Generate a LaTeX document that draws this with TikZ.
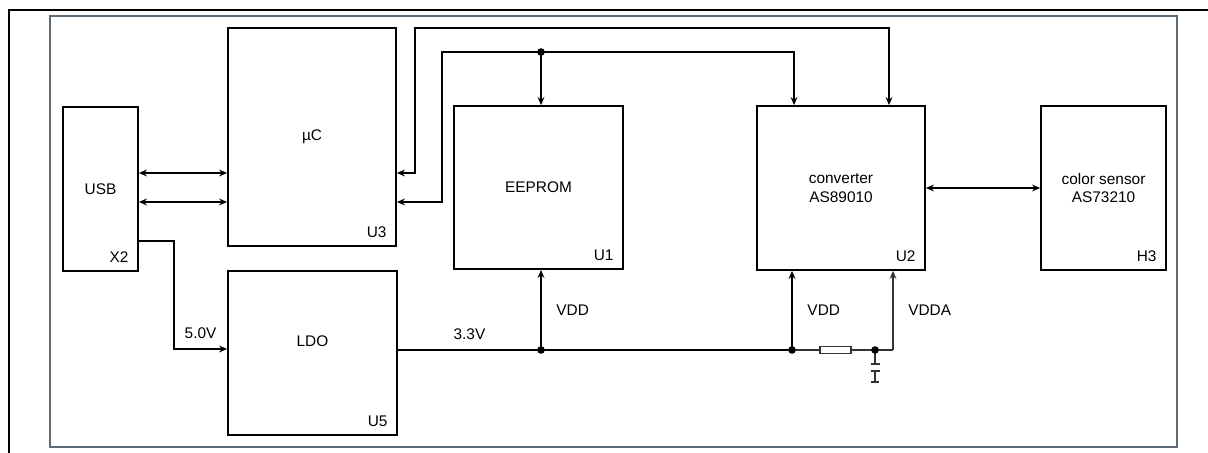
\documentclass[tikz,border=0pt]{standalone}
\usepackage{fontspec}
\setmainfont{Liberation Sans}
\usepackage{tikz}
\usetikzlibrary{arrows.meta, positioning, calc}

\definecolor{framegray}{RGB}{92,106,120}

\begin{document}
\begin{tikzpicture}[x=0.5pt,y=-0.5pt,
        blk/.style={draw, line width=0.9pt, inner sep=0pt, align=center},
        refdes/.style={anchor=south east, inner sep=0pt, xshift=-5pt, yshift=4.5pt},
        sig/.style={line width=0.8pt},
        thinsig/.style={line width=0.6pt, draw=black!80},
        dot/.style={fill, circle, inner sep=0pt, minimum size=3.8pt},
        >={Stealth[length=4pt,width=3.4pt]},
        font=\fontsize{7.7}{9.3}\selectfont]

        \useasboundingbox (0,0) rectangle (1208,453);
        \draw[line width=1pt] (9,453) -- (9,10) -- (1208,10);
        \draw[line width=1pt, framegray] (50,16) rectangle (1177,447);

        \node[blk, minimum width=37.5pt, minimum height=82pt, label={[refdes]south east:X2}] (X2) at (100.5,189) {USB};
        \node[blk, minimum width=84pt, minimum height=109pt, label={[refdes]south east:U3}] (U3) at (312,137) {µC};
        \node[blk, minimum width=84.5pt, minimum height=82pt, label={[refdes]south east:U5}, label={[yshift=6pt]center:LDO}] (U5) at (312.5,353) {};
        \node[blk, minimum width=84.5pt, minimum height=81.5pt, label={[refdes]south east:U1}] (U1) at (538.5,187.5) {EEPROM};
        \node[blk, minimum width=84pt, minimum height=82pt, label={[refdes]south east:U2}] (U2) at (841,188) {converter\\AS89010};
        \node[blk, minimum width=62.5pt, minimum height=82pt, label={[refdes]south east:H3}] (H3) at (1103.5,188) {color sensor\\AS73210};

        \coordinate (a1) at (415,173);
        \coordinate (a2) at (442,202);
        \coordinate (a3) at (174,241);
        \coordinate (a4) at (174,349);
        \coordinate (c2) at (889,28);
        \coordinate (c3) at (794,52);
        \coordinate (c4) at (541,52);
        \coordinate (j1) at (541,350);
        \coordinate (j2) at (792,350);
        \coordinate (j3) at (875,350);
        \coordinate (j4) at (893,350);

        \draw[sig, <->] (X2.east |- a1) -- (U3.west |- a1);
        \draw[sig, <->] (X2.east |- a2) -- (U3.west |- a2);
        \draw[sig, ->] (X2.east |- a3) -| (a4) -- node[above=1.5pt] (v1) {5.0V} (U5.west |- a4);

        \draw[sig, <->] (U3.east |- a1) -- (a1) |- (c2) -- (U2.north -| c2);
        \draw[sig, <->] (U3.east |- a2) -- (a2) |- (c3) -- (U2.north -| c3);
        \draw[sig, ->] (c4) -- (U1.north -| c4);
        \draw[sig, <->] (U2.east) -- (H3.west);

        \node[draw, thinsig, fill=white, minimum width=15.5pt, minimum height=3.3pt, inner sep=0pt] (F) at (835.5,350) {};
        \draw[sig] (U5.east |- j1) -- node[above=1.5pt] (v2) {3.3V} (j1) -- (j2);
        \draw[thinsig] (j2) -- (F.west);
        \draw[thinsig] (F.east) -- (j3) -- (j4);
        \draw[sig, ->] (j1) -- node[right=4pt] (v3) {VDD} (U1.south -| j1);
        \draw[sig, ->] (j2) -- node[right=4pt] (v4) {VDD} (U2.south -| j2);
        \draw[thinsig, ->] (j4) -- node[right=4pt, text=black] (v5) {VDDA} (U2.south -| j4);
        \draw[thinsig] (j3) -- ++(0,14) ++(-4.5,0) -- ++(9,0) ++(-9,7) -- ++(9,0) ++(-4.5,0) -- ++(0,11) ++(-4,0) -- ++(8,0);

        \node[dot] (d1) at (j1) {};
        \node[dot] (d2) at (j2) {};
        \node[dot] (d3) at (j3) {};
        \node[dot] (d4) at (c4) {};
    \end{tikzpicture}
\end{document}
